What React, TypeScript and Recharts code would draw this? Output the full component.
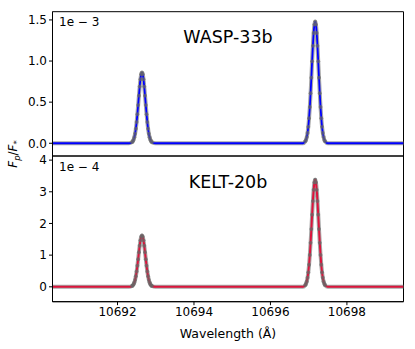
import React from 'react';
import { LineChart, Line, XAxis, YAxis, ReferenceArea } from 'recharts';

// wavelength grid (Å): sparse on the continuum, dense across the two lines
const wavelength = [
  10690.3, 10691.0, 10691.7, 10692.3,
  10692.38, 10692.4, 10692.42, 10692.44, 10692.46, 10692.48, 10692.5, 10692.52, 10692.54,
  10692.56, 10692.58, 10692.6, 10692.62, 10692.64, 10692.66, 10692.68, 10692.7, 10692.72,
  10692.74, 10692.76, 10692.78, 10692.8, 10692.82, 10692.84, 10692.86, 10692.88, 10692.9,
  10693.0, 10693.8, 10694.6, 10695.4, 10696.2, 10696.85,
  10696.91, 10696.93, 10696.95, 10696.97, 10696.99, 10697.01, 10697.03, 10697.05, 10697.07,
  10697.09, 10697.11, 10697.13, 10697.15, 10697.17, 10697.19, 10697.21, 10697.23, 10697.25,
  10697.27, 10697.29, 10697.31, 10697.33, 10697.35, 10697.37, 10697.39, 10697.41, 10697.43,
  10697.5, 10698.2, 10698.9, 10699.48,
];

// WASP-33b, units of 1e-3
const wasp33Flux = [
  0, 0, 0, 0,
  0.013, 0.025, 0.043, 0.073, 0.116, 0.177, 0.257, 0.354, 0.464,
  0.579, 0.689, 0.779, 0.839, 0.86, 0.839, 0.779, 0.689, 0.579,
  0.464, 0.354, 0.257, 0.177, 0.116, 0.073, 0.043, 0.025, 0.013,
  0, 0, 0, 0, 0, 0,
  0.023, 0.042, 0.075, 0.125, 0.2, 0.305, 0.441, 0.608, 0.798,
  0.997, 1.185, 1.341, 1.444, 1.48, 1.444, 1.341, 1.185, 0.997,
  0.798, 0.608, 0.441, 0.305, 0.2, 0.125, 0.075, 0.042, 0.023,
  0, 0, 0, 0,
];

// KELT-20b, units of 1e-4
const kelt20Flux = [
  0, 0, 0, 0,
  0.025, 0.046, 0.082, 0.137, 0.219, 0.334, 0.483, 0.666, 0.874,
  1.091, 1.297, 1.468, 1.58, 1.62, 1.58, 1.468, 1.297, 1.091,
  0.874, 0.666, 0.483, 0.334, 0.219, 0.137, 0.082, 0.046, 0.025,
  0, 0, 0, 0, 0, 0,
  0.052, 0.097, 0.17, 0.286, 0.457, 0.696, 1.008, 1.39, 1.823,
  2.277, 2.706, 3.062, 3.297, 3.38, 3.297, 3.062, 2.706, 2.277,
  1.823, 1.39, 1.008, 0.696, 0.457, 0.286, 0.17, 0.097, 0.052,
  0, 0, 0, 0,
];

const xTicks = [10692, 10694, 10696, 10698];
const waspTicks = [0, 0.5, 1.0, 1.5];
const keltTicks = [0, 1, 2, 3, 4];

const X_DOMAIN: [number, number] = [10690.3, 10699.48];
const WASP_DOMAIN: [number, number] = [-0.155, 1.6];
const KELT_DOMAIN: [number, number] = [-0.47, 4.13];

const waspData = wavelength.map((w, i) => ({ w, flux: wasp33Flux[i] }));
const keltData = wavelength.map((w, i) => ({ w, flux: kelt20Flux[i] }));

const tickStyle = { fontSize: 12, fill: '#000' };

// grey observed points, skipped on the flat continuum where the band already covers them
const GreyDot = (props: any) => {
  const { cx, cy, payload } = props;
  if (!payload || payload.flux === 0) return <g />;
  return <circle cx={cx} cy={cy} r={1.9} fill="#666" fillOpacity={0.7} />;
};

const App = () => {
  return (
    <div style={{ position: 'absolute', left: 0, top: 0, width: 415, height: 349, background: '#fff', fontFamily: '"DejaVu Sans", sans-serif' }}>
      <div style={{ position: 'absolute', left: 0, top: 0 }}>
        <LineChart width={415} height={162} data={waspData} margin={{ top: 11.7, right: 11.5, bottom: 6, left: 0 }}>
          <XAxis type="number" dataKey="w" domain={X_DOMAIN} ticks={xTicks} allowDataOverflow hide />
          <YAxis
            width={52.5}
            domain={WASP_DOMAIN}
            ticks={waspTicks}
            allowDataOverflow
            tick={tickStyle}
            tickFormatter={(v: number) => v.toFixed(1)}
            tickSize={3.5}
            tickLine={{ stroke: '#000' }}
            axisLine={{ stroke: '#000' }}
          />
          <Line type="monotone" dataKey="flux" stroke="#a6a6a6" strokeWidth={4} dot={<GreyDot />} isAnimationActive={false} />
          <Line type="monotone" dataKey="flux" stroke="#0000ff" strokeWidth={1.8} dot={false} isAnimationActive={false} />
          <ReferenceArea x1={X_DOMAIN[0]} x2={X_DOMAIN[1]} y1={WASP_DOMAIN[0]} y2={WASP_DOMAIN[1]} fill="none" stroke="#000" strokeWidth={1} />
        </LineChart>
      </div>
      <div style={{ position: 'absolute', left: 0, top: 140 }}>
        <LineChart width={415} height={209} data={keltData} margin={{ top: 16, right: 11.5, bottom: 17.3, left: 0 }}>
          <XAxis
            type="number"
            dataKey="w"
            domain={X_DOMAIN}
            ticks={xTicks}
            allowDataOverflow
            height={30}
            tick={tickStyle}
            tickSize={3.5}
            tickLine={{ stroke: '#000' }}
            axisLine={{ stroke: '#000' }}
            label={{ value: 'Wavelength (Å)', position: 'insideBottom', offset: -6, fontSize: 12.5, fill: '#000' }}
          />
          <YAxis
            width={52.5}
            domain={KELT_DOMAIN}
            ticks={keltTicks}
            allowDataOverflow
            tick={tickStyle}
            tickSize={3.5}
            tickLine={{ stroke: '#000' }}
            axisLine={{ stroke: '#000' }}
          />
          <Line type="monotone" dataKey="flux" stroke="#a6a6a6" strokeWidth={4} dot={<GreyDot />} isAnimationActive={false} />
          <Line type="monotone" dataKey="flux" stroke="#dc143c" strokeWidth={2} dot={false} isAnimationActive={false} />
          <ReferenceArea x1={X_DOMAIN[0]} x2={X_DOMAIN[1]} y1={KELT_DOMAIN[0]} y2={KELT_DOMAIN[1]} fill="none" stroke="#000" strokeWidth={1} />
        </LineChart>
      </div>
      <svg width={415} height={349} style={{ position: 'absolute', left: 0, top: 0, pointerEvents: 'none' }}>
        <text x={59} y={25.5} fontSize={12}>1e − 3</text>
        <text x={59} y={170.5} fontSize={12}>1e − 4</text>
        <text x={228} y={42.7} fontSize={17.5} textAnchor="middle">WASP-33b</text>
        <text x={228} y={188.3} fontSize={17.5} textAnchor="middle">KELT-20b</text>
        <text transform="translate(17,154) rotate(-90)" fontSize={12} textAnchor="middle">
          <tspan fontStyle="italic">F</tspan>
          <tspan fontStyle="italic" fontSize={8.5} dy={3}>p</tspan>
          <tspan dy={-3}>/</tspan>
          <tspan fontStyle="italic">F</tspan>
          <tspan fontSize={8.5} dy={3}>*</tspan>
        </text>
      </svg>
    </div>
  );
};

export default App;
